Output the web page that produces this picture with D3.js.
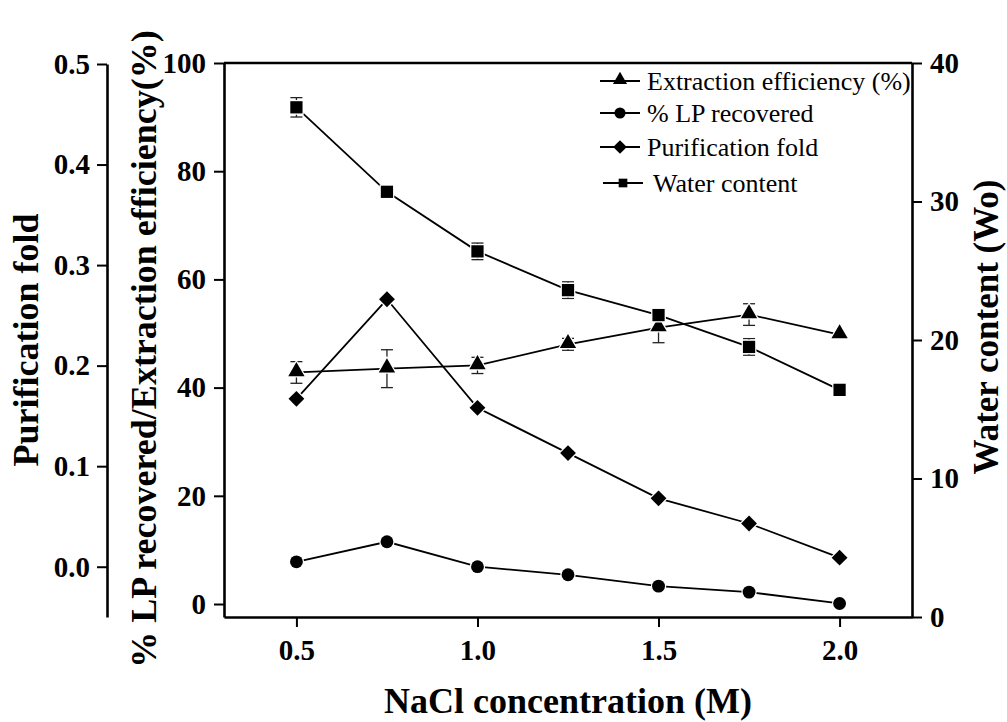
<!DOCTYPE html>
<html>
<head>
<meta charset="utf-8">
<script src="https://cdn.jsdelivr.net/npm/d3@7"></script>
<style>
  body { margin: 0; background: #fff; }
  svg text { font-family: "Liberation Serif", "Times New Roman", serif; fill: #000; }
  .axis text { font-size: 29px; font-weight: bold; }
  .axis path, .axis line { stroke: #000; }
  .axis path { stroke-width: 2.6; }
  .axis line { stroke-width: 2; }
  .title { font-size: 36px; font-weight: bold; }
  .legend text { font-size: 26px; }
</style>
</head>
<body>
<svg id="chart"></svg>
<script>
// NaCl concentration (M)
const nacl = [0.5, 0.75, 1.0, 1.25, 1.5, 1.75, 2.0];
// left-middle axis (%)
const extraction = [42.8, 43.5, 44.1, 48.0, 51.1, 53.5, 49.8];
const extractionErr = [2.0, 3.5, 1.5, 1.1, 2.8, 2.0, 0];
const lpRecovered = [7.8, 11.5, 6.9, 5.4, 3.3, 2.2, 0.1];
// far-left axis
const purification = [0.167, 0.266, 0.158, 0.113, 0.068, 0.043, 0.009];
// right axis (Wo)
const water = [36.8, 30.7, 26.4, 23.6, 21.8, 19.5, 16.4];
const waterErr = [0.7, 0, 0.6, 0.6, 0, 0.6, 0];

const xTicks = [0.5, 1.0, 1.5, 2.0];
const pctTicks = [0, 20, 40, 60, 80, 100];
const foldTicks = [0.0, 0.1, 0.2, 0.3, 0.4, 0.5];
const waterTicks = [0, 10, 20, 30, 40];

const legendNames = ['Extraction efficiency (%)', '% LP recovered', 'Purification fold', 'Water content'];
const legendShapes = ['triangle', 'circle', 'diamond', 'square'];

const width = 1007, height = 722;
const plotLeft = 224, plotRight = 912, plotTop = 63, plotBottom = 617;

const svg = d3.select('#chart').attr('width', width).attr('height', height);

const x = d3.scaleLinear().domain([0.3, 2.2]).range([plotLeft, plotRight]);
const yPct = d3.scaleLinear().domain([-2.4, 100]).range([plotBottom, plotTop]);
const yFold = d3.scaleLinear().domain([-0.05, 0.5]).range([plotBottom, plotTop + 1]);
const yWater = d3.scaleLinear().domain([0, 40]).range([plotBottom, plotTop]);

const symbols = {
  triangle: d3.symbol().type(d3.symbolTriangle).size(115),
  circle: d3.symbol().type(d3.symbolCircle).size(130),
  diamond: d3.symbol().type(d3.symbolSquare).size(125),
  square: d3.symbol().type(d3.symbolSquare).size(150)
};

// axes
svg.append('g').attr('class', 'axis')
  .attr('transform', 'translate(0,' + plotBottom + ')')
  .call(d3.axisBottom(x).tickValues(xTicks).tickFormat(d3.format('.1f'))
    .tickSize(10).tickSizeOuter(0).tickPadding(12));

svg.append('g').attr('class', 'axis')
  .attr('transform', 'translate(' + plotLeft + ',0)')
  .call(d3.axisLeft(yPct).tickValues(pctTicks).tickSize(10).tickSizeOuter(0).tickPadding(8));

svg.append('g').attr('class', 'axis')
  .attr('transform', 'translate(107,0)')
  .call(d3.axisLeft(yFold).tickValues(foldTicks).tickFormat(d3.format('.1f'))
    .tickSize(10).tickSizeOuter(0).tickPadding(7));

svg.append('g').attr('class', 'axis')
  .attr('transform', 'translate(' + plotRight + ',0)')
  .call(d3.axisRight(yWater).tickValues(waterTicks).tickSize(10).tickSizeOuter(0).tickPadding(8));

svg.selectAll('.axis').attr('font-family', null).attr('font-size', null);

// top frame line
svg.append('line')
  .attr('x1', plotLeft).attr('x2', plotRight).attr('y1', plotTop).attr('y2', plotTop)
  .attr('stroke', '#000').attr('stroke-width', 2.6);

// titles
svg.append('text').attr('class', 'title')
  .attr('x', 568).attr('y', 713).attr('text-anchor', 'middle')
  .text('NaCl concentration (M)');

svg.append('text').attr('class', 'title')
  .attr('transform', 'translate(38,340) rotate(-90)').attr('text-anchor', 'middle')
  .text('Purification fold');

svg.append('text').attr('class', 'title')
  .attr('transform', 'translate(156,349) rotate(-90)').attr('text-anchor', 'middle')
  .text('% LP recovered/Extraction efficiency(%)');

svg.append('text').attr('class', 'title')
  .attr('transform', 'translate(998,327) rotate(-90)').attr('text-anchor', 'middle')
  .style('font-size', '35px')
  .text('Water content (Wo)');

// series
const series = [
  { values: extraction, err: extractionErr, y: yPct, shape: 'triangle' },
  { values: lpRecovered, err: null, y: yPct, shape: 'circle' },
  { values: purification, err: null, y: yFold, shape: 'diamond' },
  { values: water, err: waterErr, y: yWater, shape: 'square' }
];

function placeSymbol(shape, cx, cy) {
  let t = 'translate(' + cx + ',' + cy + ')';
  if (shape === 'diamond') t += ' rotate(45)';
  if (shape === 'triangle') t += ' translate(0,-1)';
  return t;
}

const line = d3.line();

series.forEach(function (s) {
  const pts = nacl.map(function (d, i) { return [x(d), s.y(s.values[i])]; });
  svg.append('path')
    .attr('d', line(pts))
    .attr('fill', 'none')
    .attr('stroke', '#000')
    .attr('stroke-width', 1.8);
});

series.forEach(function (s) {
  if (!s.err) return;
  const g = svg.append('g').attr('stroke', '#222').attr('stroke-width', 1.3);
  nacl.forEach(function (d, i) {
    if (!s.err[i]) return;
    const cx = x(d);
    const y1 = s.y(s.values[i] + s.err[i]);
    const y2 = s.y(s.values[i] - s.err[i]);
    g.append('line').attr('x1', cx).attr('x2', cx).attr('y1', y1).attr('y2', y2);
    g.append('line').attr('x1', cx - 6).attr('x2', cx + 6).attr('y1', y1).attr('y2', y1);
    g.append('line').attr('x1', cx - 6).attr('x2', cx + 6).attr('y1', y2).attr('y2', y2);
  });
});

series.forEach(function (s) {
  svg.append('g').selectAll('path')
    .data(nacl)
    .enter()
    .append('path')
    .attr('d', symbols[s.shape]())
    .attr('transform', function (d, i) { return placeSymbol(s.shape, x(d), s.y(s.values[i])); })
    .attr('fill', '#000')
    .attr('stroke', '#fff')
    .attr('stroke-width', 2.5)
    .style('paint-order', 'stroke');
});

// legend
const legendRows = [81, 113, 147, 183];
const legendShift = [0, 0, 0, 3];
const legend = svg.append('g').attr('class', 'legend');
legendNames.forEach(function (name, i) {
  const g = legend.append('g')
    .attr('transform', 'translate(' + (600 + legendShift[i]) + ',' + legendRows[i] + ')');
  g.append('line').attr('x1', 0).attr('x2', 40).attr('y1', 0).attr('y2', 0)
    .attr('stroke', '#000').attr('stroke-width', 1.8);
  const sz = legendShapes[i] === 'square' ? 0.5 : 0.75;
  g.append('path')
    .attr('d', d3.symbol().type(legendShapes[i] === 'circle' ? d3.symbolCircle :
      legendShapes[i] === 'triangle' ? d3.symbolTriangle : d3.symbolSquare)
      .size(symbols[legendShapes[i]].size()() * sz)())
    .attr('transform', placeSymbol(legendShapes[i], 20, 0))
    .attr('fill', '#000');
  g.append('text')
    .attr('x', 47 + (i === 3 ? 3 : 0)).attr('y', 0).attr('dy', '0.33em')
    .text(name);
});
</script>
</body>
</html>
